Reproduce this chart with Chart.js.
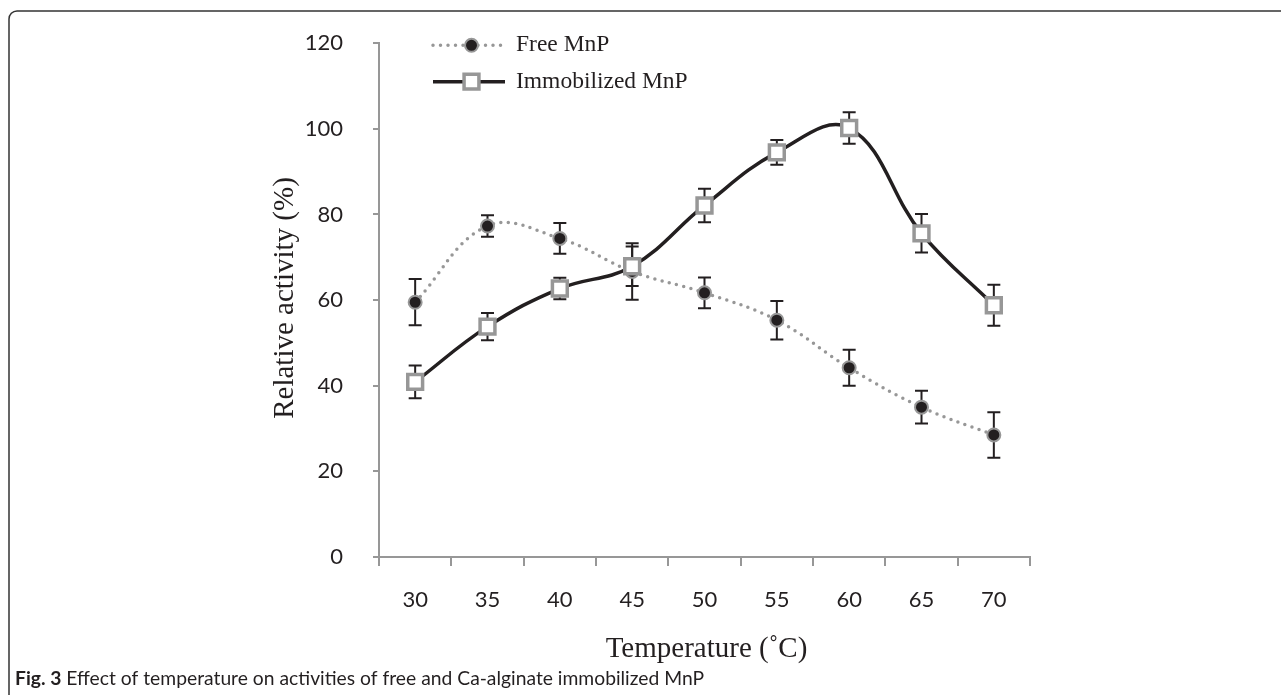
<!DOCTYPE html>
<html>
<head>
<meta charset="utf-8">
<script src="https://cdn.jsdelivr.net/npm/chart.js@4.4.1/dist/chart.umd.min.js"></script>
<style>
  html, body { margin: 0; padding: 0; background: #ffffff; }
  #wrap { position: relative; width: 1281px; height: 695px; overflow: hidden; }
</style>
</head>
<body>
<div id="wrap"><canvas id="c" width="1281" height="695"></canvas></div>
<script>
// ---- data ----
const temperatures = ['30', '35', '40', '45', '50', '55', '60', '65', '70'];
const freeMnP = [59.5, 77.3, 74.4, 66.7, 61.7, 55.3, 44.2, 35.0, 28.5];
const freeErr = [5.4, 2.5, 3.6, 6.6, 3.6, 4.5, 4.2, 3.8, 5.3];
const immobMnP = [40.9, 53.8, 62.7, 67.9, 82.1, 94.5, 100.2, 75.6, 58.8];
const immobErr = [3.8, 3.2, 2.5, 4.6, 3.9, 2.9, 3.7, 4.5, 4.8];
const seriesNames = ['Free MnP', 'Immobilized MnP'];
const yTicks = { min: 0, max: 120, step: 20 };
const xTitle = 'Temperature (\u02DAC)';
const yTitle = 'Relative activity (%)';
const captionBold = 'Fig. 3';
const captionText = ' Effect of temperature on activities of free and Ca-alginate immobilized MnP';

const GRAY = '#979797';
const DARK = '#231f20';
const SERIF = '"Liberation Serif", "Times New Roman", serif';
const SANS = 'Lato, "Open Sans", sans-serif';

const errors = [freeErr, immobErr];

const errorBarPlugin = {
  id: 'errorBars',
  beforeDatasetsDraw(chart) {
    const ctx = chart.ctx;
    const y = chart.scales.y;
    ctx.save();
    ctx.strokeStyle = DARK;
    ctx.lineWidth = 2;
    chart.data.datasets.forEach((ds, di) => {
      const meta = chart.getDatasetMeta(di);
      const errs = errors[di];
      meta.data.forEach((pt, i) => {
        const v = ds.data[i];
        const yt = y.getPixelForValue(v + errs[i]);
        const yb = y.getPixelForValue(v - errs[i]);
        const x = pt.x;
        ctx.beginPath();
        ctx.moveTo(x, yt); ctx.lineTo(x, yb);
        ctx.moveTo(x - 6.5, yt); ctx.lineTo(x + 6.5, yt);
        ctx.moveTo(x - 6.5, yb); ctx.lineTo(x + 6.5, yb);
        ctx.stroke();
      });
    });
    ctx.restore();
  }
};

const decorPlugin = {
  id: 'decor',
  afterDraw(chart) {
    const ctx = chart.ctx;
    const area = chart.chartArea;
    ctx.save();
    // frame
    ctx.strokeStyle = '#333333';
    ctx.lineWidth = 1.5;
    ctx.beginPath();
    ctx.moveTo(9, 700);
    ctx.lineTo(9, 19);
    ctx.arcTo(9, 11, 17, 11, 8);
    ctx.lineTo(1290, 11);
    ctx.stroke();

    // legend
    const lx0 = 433, lx1 = 505, mx = 471.5;
    const ly = [45.3, 81.7];
    const dsF = chart.data.datasets[0];
    const dsI = chart.data.datasets[1];
    ctx.strokeStyle = dsF.borderColor;
    ctx.lineWidth = dsF.borderWidth;
    ctx.lineCap = 'round';
    ctx.setLineDash(dsF.borderDash);
    ctx.beginPath(); ctx.moveTo(lx0, ly[0]); ctx.lineTo(lx1, ly[0]); ctx.stroke();
    ctx.setLineDash([]);
    ctx.lineCap = 'butt';
    ctx.fillStyle = dsF.pointBackgroundColor;
    ctx.strokeStyle = dsF.pointBorderColor;
    ctx.lineWidth = dsF.pointBorderWidth;
    ctx.beginPath(); ctx.arc(mx, ly[0], dsF.pointRadius, 0, Math.PI * 2); ctx.fill(); ctx.stroke();
    ctx.strokeStyle = dsI.borderColor;
    ctx.lineWidth = dsI.borderWidth;
    ctx.beginPath(); ctx.moveTo(lx0, ly[1]); ctx.lineTo(lx1, ly[1]); ctx.stroke();
    const s = dsI.pointRadius * Math.SQRT1_2;
    ctx.fillStyle = dsI.pointBackgroundColor;
    ctx.strokeStyle = dsI.pointBorderColor;
    ctx.lineWidth = dsI.pointBorderWidth;
    ctx.beginPath(); ctx.rect(mx - s, ly[1] - s, 2 * s, 2 * s); ctx.fill(); ctx.stroke();
    ctx.fillStyle = '#231f20';
    ctx.font = '23.5px ' + SERIF;
    ctx.textAlign = 'left';
    ctx.textBaseline = 'middle';
    ctx.fillText(seriesNames[0], 516, ly[0]);
    ctx.fillText(seriesNames[1], 516, ly[1]);

    // axis titles
    ctx.font = '29px ' + SERIF;
    ctx.textAlign = 'center';
    ctx.fillText(xTitle, (area.left + area.right) / 2 + 2, 649);
    ctx.save();
    ctx.translate(285, 298);
    ctx.rotate(-Math.PI / 2);
    ctx.fillText(yTitle, 0, 0);
    ctx.restore();

    // caption
    ctx.textAlign = 'left';
    ctx.textBaseline = 'alphabetic';
    ctx.font = 'bold 19.3px ' + SANS;
    ctx.fillText(captionBold, 15, 685);
    const w = ctx.measureText(captionBold).width;
    ctx.font = '19.3px ' + SANS;
    ctx.fillText(captionText, 15 + w, 685);
    ctx.restore();
  }
};

new Chart(document.getElementById('c'), {
  type: 'line',
  data: {
    labels: temperatures,
    datasets: [
      {
        label: seriesNames[0],
        data: freeMnP,
        order: 1,
        borderColor: GRAY,
        borderWidth: 3.5,
        borderDash: [0, 7.5],
        borderCapStyle: 'round',
        tension: 0.4,
        fill: false,
        pointStyle: 'circle',
        pointRadius: 6.5,
        pointBackgroundColor: DARK,
        pointBorderColor: GRAY,
        pointBorderWidth: 2
      },
      {
        label: seriesNames[1],
        data: immobMnP,
        order: 0,
        borderColor: DARK,
        borderWidth: 3.5,
        tension: 0.4,
        fill: false,
        pointStyle: 'rect',
        pointRadius: 10.5,
        pointBackgroundColor: '#ffffff',
        pointBorderColor: GRAY,
        pointBorderWidth: 3.5
      }
    ]
  },
  options: {
    responsive: false,
    animation: false,
    events: [],
    layout: { padding: { top: 39, right: 251, bottom: 0, left: 0 } },
    plugins: {
      legend: { display: false },
      title: { display: false },
      tooltip: { enabled: false }
    },
    scales: {
      x: {
        type: 'category',
        offset: true,
        grid: { offset: true, drawOnChartArea: false, drawTicks: true, tickLength: 9, color: GRAY, lineWidth: 2 },
        border: { display: true, color: GRAY, width: 2 },
        ticks: { padding: 21, color: '#231f20', font: { family: SANS, size: 22 }, maxRotation: 0 },
        afterFit(scale) { scale.height = 138; }
      },
      y: {
        min: yTicks.min,
        max: yTicks.max,
        grid: { drawOnChartArea: false, drawTicks: true, tickLength: 6, color: GRAY, lineWidth: 2 },
        border: { display: true, color: GRAY, width: 2 },
        ticks: { stepSize: yTicks.step, padding: 30, color: '#231f20', font: { family: SANS, size: 22 } },
        afterFit(scale) { scale.width = 379; }
      }
    }
  },
  plugins: [errorBarPlugin, decorPlugin]
});
</script>
</body>
</html>
